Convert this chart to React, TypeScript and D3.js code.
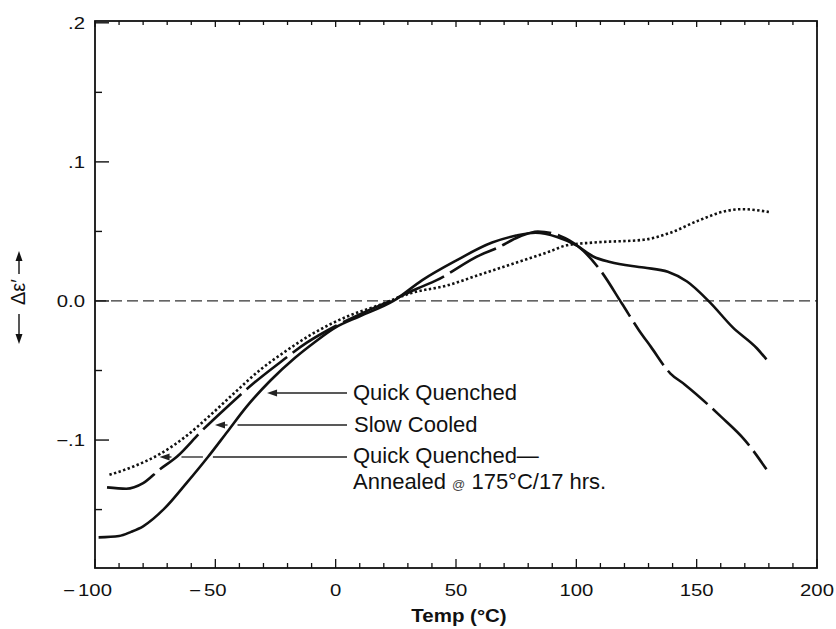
import React from 'react';
import * as d3 from 'd3';

// ---- Data ----
const quickTemps = [-98.5, -90, -85, -80, -71, -62, -53, -45, -37, -27, -17, -9, 0, 10, 24, 36, 50, 65, 75, 83, 92, 100, 107, 114, 128, 138, 146, 155.5, 165, 175, 179];
const quickVals = [-0.170, -0.169, -0.166, -0.162, -0.149, -0.131, -0.112, -0.094, -0.076, -0.057, -0.041, -0.030, -0.019, -0.011, 0.000, 0.015, 0.029, 0.042, 0.047, 0.049, 0.046, 0.040, 0.032, 0.028, 0.024, 0.021, 0.014, -0.001, -0.019, -0.034, -0.042];

const slowTemps = [-95, -87, -80, -73, -66, -56, -45, -34, -23, -12, 0, 12, 24, 34, 42, 60, 67, 76, 84, 93, 101, 110, 119, 126, 131, 139, 145, 160, 170, 179];
const slowVals = [-0.134, -0.135, -0.131, -0.121, -0.112, -0.094, -0.076, -0.059, -0.044, -0.030, -0.018, -0.008, 0.001, 0.009, 0.015, 0.033, 0.038, 0.046, 0.050, 0.047, 0.039, 0.022, -0.002, -0.021, -0.033, -0.052, -0.060, -0.083, -0.100, -0.121];

const annealTemps = [-94, -84, -73, -62, -52, -42, -31, -21.5, -10, 5, 18, 32, 46, 60, 74, 88, 96, 107, 128, 139, 151, 163, 169, 180];
const annealVals = [-0.125, -0.119, -0.110, -0.097, -0.082, -0.066, -0.049, -0.037, -0.024, -0.011, -0.003, 0.006, 0.011, 0.019, 0.027, 0.035, 0.040, 0.042, 0.044, 0.049, 0.058, 0.065, 0.066, 0.064];

const xTickLabels = [-100, -50, 0, 50, 100, 150, 200];
const yTickValues = [0.2, 0.1, 0, -0.1];
const yTickLabels = ['.2', '.1', '0.0', '\u2212.1'];

const seriesNames = ['Quick Quenched', 'Slow Cooled', 'Quick Quenched\u2014'];

const FONT = '"Liberation Sans", Arial, Helvetica, sans-serif';
const INK = '#111';

export default function App() {
  const x = d3.scaleLinear().domain([-100, 200]).range([95, 817]);
  const y = d3.scaleLinear().domain([-0.192, 0.2013]).range([568, 21]);

  const series = [
    { temps: quickTemps, vals: quickVals, dash: undefined as string | undefined },
    { temps: slowTemps, vals: slowVals, dash: '52,7' },
    { temps: annealTemps, vals: annealVals, dash: '2.4,2.4' },
  ];

  const line = d3
    .line<[number, number]>()
    .x((d) => x(d[0]))
    .y((d) => y(d[1]))
    .curve(d3.curveMonotoneX);

  const pts = series.map((s) => s.temps.map((t, i) => [t, s.vals[i]] as [number, number]));

  const crossings = (si: number, py: number) => {
    const p = pts[si].map((d) => [x(d[0]), y(d[1])]);
    const out: number[] = [];
    for (let i = 0; i < p.length - 1; i++) {
      const [x1, y1] = p[i];
      const [x2, y2] = p[i + 1];
      if ((y1 - py) * (y2 - py) <= 0 && y1 !== y2) {
        out.push(x1 + ((py - y1) / (y2 - y1)) * (x2 - x1));
      }
    }
    return out;
  };

  const arrowRows = [
    { py: 393, target: 0, off: 8 },
    { py: 425, target: 1, off: 7 },
    { py: 457, target: 2, off: 6 },
  ];
  const arrowEnd = 347;

  const arrows = arrowRows.map((a) => {
    const cx = crossings(a.target, a.py).filter((v) => v < arrowEnd);
    const tip = Math.max(...cx) + a.off;
    const headLen = 10;
    const gaps: [number, number][] = [];
    series.forEach((_, si) => {
      if (si === a.target) return;
      crossings(si, a.py).forEach((c) => {
        if (c > tip && c < arrowEnd) gaps.push([c - 5, c + 5]);
      });
    });
    gaps.sort((g1, g2) => g1[0] - g2[0]);
    const segs: [number, number][] = [];
    let start = tip + headLen - 1;
    gaps.forEach(([g0, g1]) => {
      if (g0 > start) segs.push([start, g0]);
      start = Math.max(start, g1);
    });
    if (start < arrowEnd) segs.push([start, arrowEnd]);
    return { ...a, tip, headLen, segs };
  });

  const xTicks = d3.range(-100, 201, 10);
  const yTicks = d3.range(-0.15, 0.2001, 0.05);

  const tickFs = 16;
  const sx = 1.27;

  return (
    <svg
      width={836}
      height={629}
      viewBox="0 0 836 629"
      style={{ position: 'absolute', left: 0, top: 0, background: '#fff' }}
      fontFamily={FONT}
    >
      <rect x={0} y={0} width={836} height={629} fill="#fff" />

      <line x1={x(-100)} x2={x(200)} y1={y(0)} y2={y(0)} stroke="#333" strokeWidth={1.3} strokeDasharray="11,5" />

      <rect x={x(-100)} y={y(0.2013)} width={x(200) - x(-100)} height={y(-0.192) - y(0.2013)} fill="none" stroke={INK} strokeWidth={1.8} />

      {xTicks.map((t) => {
        const major = Math.round(t) % 50 === 0;
        return (
          <g key={'xt' + t}>
            <line x1={x(t)} x2={x(t)} y1={568} y2={568 - (major ? 9 : 5)} stroke={INK} strokeWidth={1.3} />
            <line x1={x(t)} x2={x(t)} y1={21} y2={21 + (major ? 6 : 4)} stroke={INK} strokeWidth={1.3} />
          </g>
        );
      })}

      {yTicks.map((v) => {
        const major = Math.abs(Math.round(v * 100) % 10) === 0;
        return <line key={'yt' + v} x1={95} x2={95 + (major ? 14 : 7)} y1={y(v)} y2={y(v)} stroke={INK} strokeWidth={1.4} />;
      })}

      {xTickLabels.map((t) => {
        const digits = String(Math.abs(t));
        const half = (digits.length * 0.556 * tickFs) / 2;
        return (
          <g key={'xl' + t} transform={`translate(${x(t)},596) scale(${sx},1)`} fill={INK} fontSize={tickFs}>
            <text textAnchor="middle">{digits}</text>
            {t < 0 && (
              <text textAnchor="end" x={-half - 2.5}>
                {'\u2212'}
              </text>
            )}
          </g>
        );
      })}

      {yTickValues.map((v, i) => (
        <text key={'yl' + v} transform={`translate(85,${y(v) + 6}) scale(${sx},1)`} textAnchor="end" fontSize={tickFs} fill={INK}>
          {yTickLabels[i]}
        </text>
      ))}

      <text transform={`translate(459,622) scale(1.17,1)`} textAnchor="middle" fontSize={17.5} fontWeight="bold" fill={INK}>
        Temp (°C)
      </text>

      <g fill={INK} stroke={INK}>
        <line x1={19} x2={19} y1={274} y2={259} strokeWidth={1.4} />
        <path d="M19,251 L15.5,261 L22.5,261 Z" stroke="none" />
        <line x1={19} x2={19} y1={314} y2={335} strokeWidth={1.4} />
        <path d="M19,344 L15.5,334 L22.5,334 Z" stroke="none" />
      </g>
      <text transform="translate(25,292) rotate(-90)" textAnchor="middle" fontSize={20} fill={INK}>
        Δε′
      </text>

      {series.map((s, i) => (
        <path
          key={'s' + i}
          d={line(pts[i]) || ''}
          fill="none"
          stroke={INK}
          strokeWidth={2.6}
          strokeDasharray={s.dash}
          strokeLinejoin="round"
        />
      ))}

      {arrows.map((a, i) => (
        <g key={'ar' + i}>
          {a.segs.map(([s0, s1], j) => (
            <line key={j} x1={s0} x2={s1} y1={a.py} y2={a.py} stroke="#222" strokeWidth={1.3} />
          ))}
          <path d={`M${a.tip},${a.py} L${a.tip + a.headLen},${a.py - 3.5} L${a.tip + a.headLen},${a.py + 3.5} Z`} fill="#222" />
        </g>
      ))}

      <g fontSize={22} fill={INK}>
        <text x={353} y={400}>{seriesNames[0]}</text>
        <text x={354} y={432}>{seriesNames[1]}</text>
        <text x={353} y={463}>{seriesNames[2]}</text>
        <text x={353} y={489}>
          Annealed <tspan fontSize={13} fill="#444">@</tspan> 175°C/17 hrs.
        </text>
      </g>
    </svg>
  );
}
